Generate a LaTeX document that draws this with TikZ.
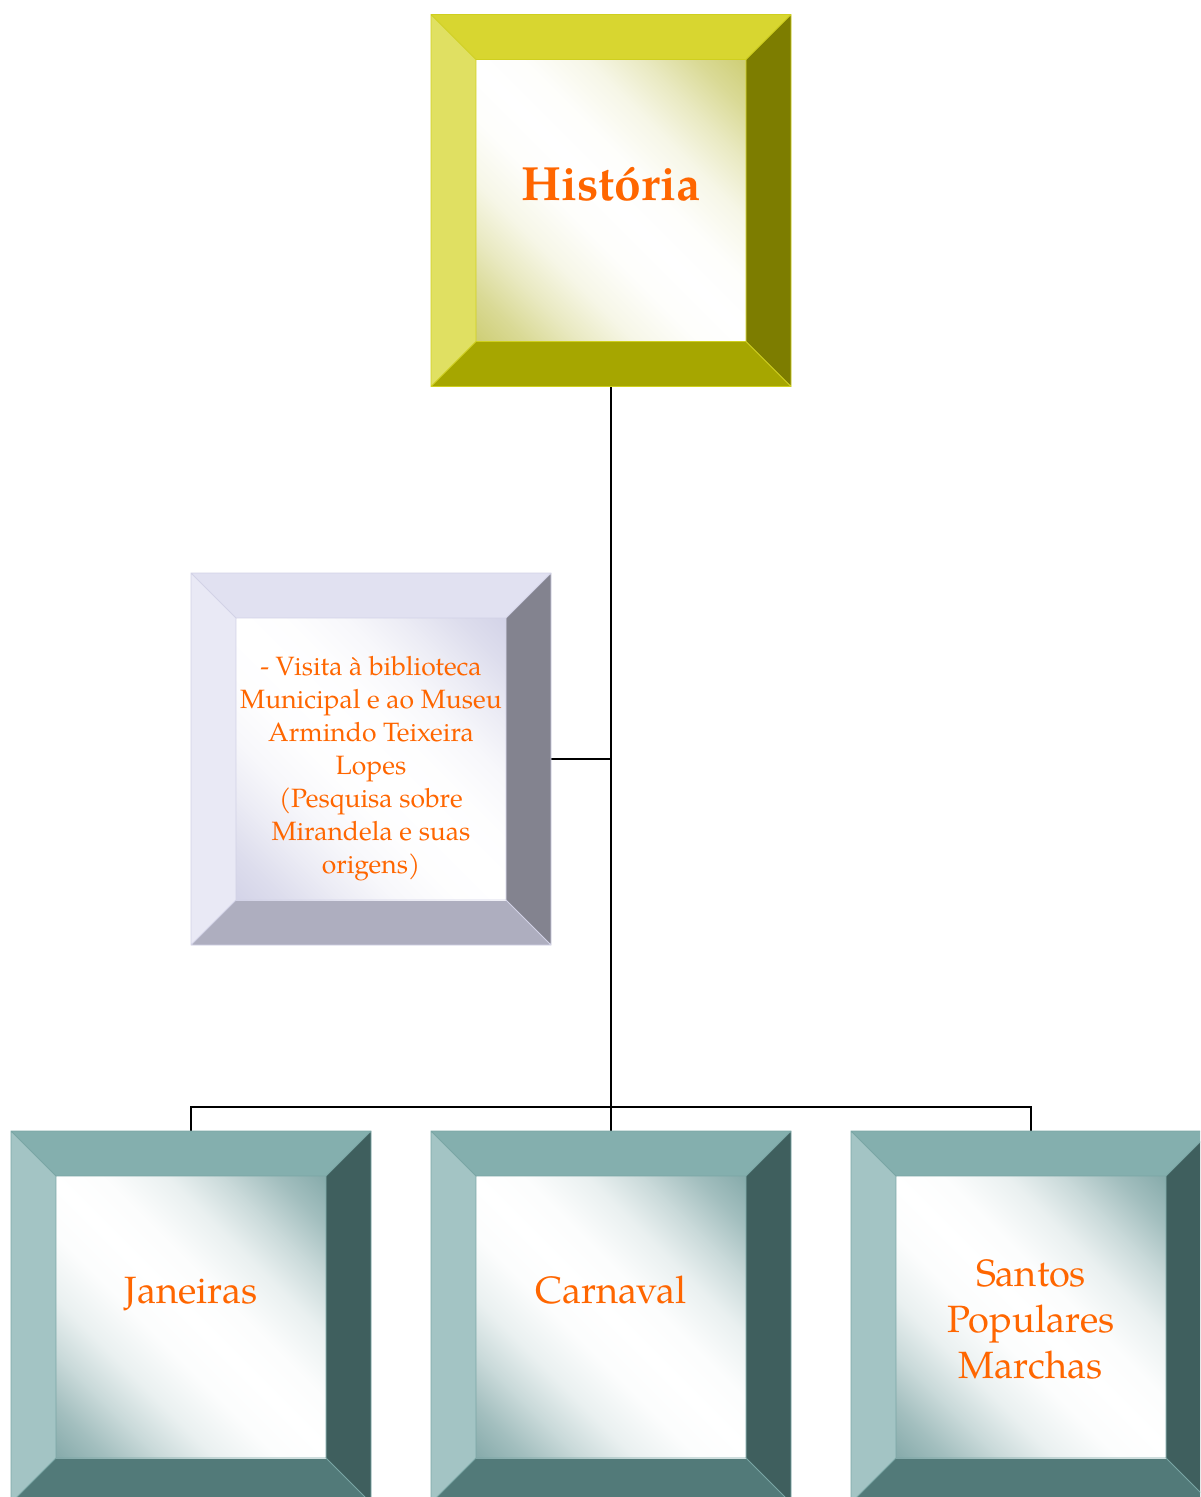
\documentclass[tikz,border=0pt]{standalone}
\usepackage{fontspec}
\setmainfont{TeX Gyre Pagella}
\usetikzlibrary{calc}
\definecolor{txt}{HTML}{FF6600}
% yellow
\definecolor{yT}{HTML}{D8D630}\definecolor{yL}{HTML}{E0E062}\definecolor{yR}{HTML}{7D7D00}\definecolor{yB}{HTML}{A6A600}\definecolor{yE}{HTML}{CFCF1E}\definecolor{yS}{HTML}{CFCF78}
% lavender
\definecolor{lT}{HTML}{E1E1F1}\definecolor{lL}{HTML}{E9E9F5}\definecolor{lR}{HTML}{83838F}\definecolor{lB}{HTML}{AEAEBF}\definecolor{lE}{HTML}{D2D2E6}\definecolor{lS}{HTML}{D4D4E8}
% teal
\definecolor{tT}{HTML}{84AFAE}\definecolor{tL}{HTML}{A3C4C4}\definecolor{tR}{HTML}{3F5F5E}\definecolor{tB}{HTML}{527A79}\definecolor{tE}{HTML}{7AA6A5}\definecolor{tS}{HTML}{88ACAC}
\newcommand\mkshade[2]{%
\pgfdeclarehorizontalshading{#1}{100bp}{color(0bp)=(#2); color(15bp)=(#2); color(21bp)=(#2!78!white); color(28bp)=(#2!45!white); color(35bp)=(#2!18!white); color(43bp)=(#2!3!white); color(50bp)=(white); color(57bp)=(#2!3!white); color(65bp)=(#2!18!white); color(72bp)=(#2!45!white); color(79bp)=(#2!78!white); color(85bp)=(#2); color(100bp)=(#2)}}
\mkshade{yshade}{yS}
\mkshade{lshade}{lS}
\mkshade{tshade}{tS}
\newcommand\bevelbox[7]{%
  \coordinate (#1-a) at (#1.north west);
  \coordinate (#1-b) at (#1.north east);
  \coordinate (#1-c) at (#1.south east);
  \coordinate (#1-d) at (#1.south west);
  \coordinate (#1-ia) at ($(#1.north west)+(45,45)$);
  \coordinate (#1-ib) at ($(#1.north east)+(-45,45)$);
  \coordinate (#1-ic) at ($(#1.south east)+(-45,-45)$);
  \coordinate (#1-id) at ($(#1.south west)+(45,-45)$);
  \fill[#2] (#1-a)--(#1-b)--(#1-ib)--(#1-ia)--cycle;
  \fill[#3] (#1-a)--(#1-ia)--(#1-id)--(#1-d)--cycle;
  \fill[#4] (#1-b)--(#1-c)--(#1-ic)--(#1-ib)--cycle;
  \fill[#5] (#1-d)--(#1-id)--(#1-ic)--(#1-c)--cycle;
  \shade[shading=#7,shading angle=45] (#1-ia) rectangle (#1-ic);
  \draw[#6,line width=0.8pt,line join=miter]
    (#1-a) rectangle (#1-c)
    (#1-ia) rectangle (#1-ic)
    (#1-a)--(#1-ia) (#1-b)--(#1-ib) (#1-c)--(#1-ic) (#1-d)--(#1-id);
}
\tikzset{
  boxnode/.style={minimum width=360pt,minimum height=372pt,inner sep=0pt,outer sep=0pt},
  conn/.style={draw=black,line width=2pt},
  lbl/.style={text=txt,align=center,inner sep=0pt},
}
\begin{document}
\begin{tikzpicture}[x=1pt,y=-1pt]
\useasboundingbox (0,0) rectangle (1200,1497);
\clip (0,0) rectangle (1200,1497);
\node[boxnode] (hist) at (611,200.5) {};
\node[boxnode] (side) at (371,759) {};
\node[boxnode] (jan)  at (191,1317) {};
\node[boxnode] (carn) at (611,1317) {};
\node[boxnode] (sant) at (1031,1317) {};
\coordinate (bar) at (611,1107);
% connectors
\draw[conn] (hist.south) -- (carn.north);
\draw[conn] (side.east) -- (side.east -| hist.south);
\draw[conn] (jan.north) |- (bar) -| (sant.north);
% boxes
\bevelbox{hist}{yT}{yL}{yR}{yB}{yE}{yshade}
\bevelbox{side}{lT}{lL}{lR}{lB}{lE}{lshade}
\bevelbox{jan}{tT}{tL}{tR}{tB}{tE}{tshade}
\bevelbox{carn}{tT}{tL}{tR}{tB}{tE}{tshade}
\bevelbox{sant}{tT}{tL}{tR}{tB}{tE}{tshade}
% labels
\node[lbl,anchor=base,font=\bfseries\fontsize{48}{58}\selectfont] (histt) at (611,200) {História};
\node[lbl,font=\fontsize{26.5}{33}\selectfont] (sidet) at (371,769) {- Visita à biblioteca\\Municipal e ao Museu\\Armindo Teixeira\\Lopes\\(Pesquisa sobre\\Mirandela e suas\\origens)};
\node[lbl,anchor=base,font=\fontsize{38}{46}\selectfont] (jant) at (191,1303) {Janeiras};
\node[lbl,anchor=base,font=\fontsize{38}{46}\selectfont] (carnt) at (611,1303) {Carnaval};
\node[lbl,font=\fontsize{38}{46}\selectfont] (santt) at (1031,1319) {Santos\\Populares\\Marchas};
\end{tikzpicture}
\end{document}
